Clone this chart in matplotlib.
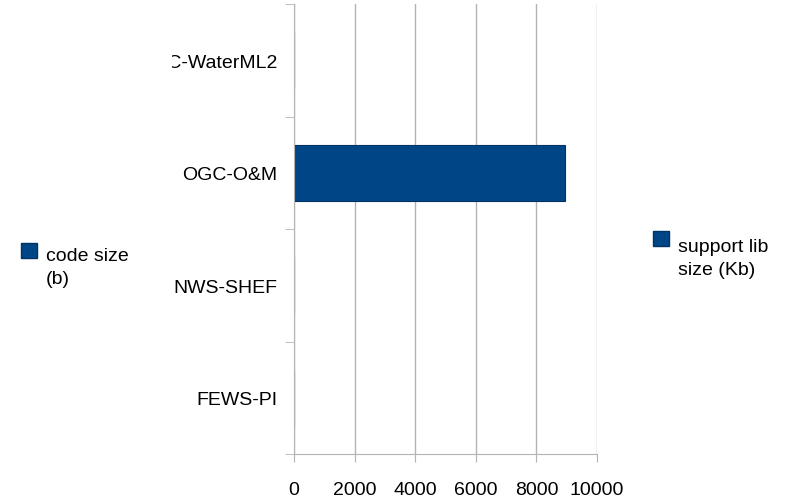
import matplotlib
matplotlib.use("Agg")
import matplotlib.pyplot as plt
from matplotlib.patches import Patch
from matplotlib.transforms import Bbox, TransformedBbox

# chart data
categories = ["FEWS-PI", "NWS-SHEF", "OGC-O&M", "OGC-WaterML2"]
code_size = [0, 0, 8950, 0]
support_lib_size = [0, 0, 0, 0]
x_ticks = [0, 2000, 4000, 6000, 8000, 10000]

bar_color = "#004586"
edge_color = "#003366"
grid_color = "#b3b3b3"

plt.rcParams["font.family"] = ["Liberation Sans", "DejaVu Sans"]
plt.rcParams["font.size"] = 14

fig = plt.figure(figsize=(7.9, 5.02), dpi=100)
ax = fig.add_axes([294 / 790, 1 - 455 / 502, 303 / 790, 450 / 502])

pos = list(range(len(categories)))
ax.barh(pos, code_size, height=0.5, color=bar_color, edgecolor=edge_color, linewidth=0.8)
ax.barh(pos, support_lib_size, height=0.5, color=bar_color)

ax.set_xlim(0, 10000)
ax.set_ylim(-0.5, len(categories) - 0.5)
ax.set_xticks(x_ticks)
ax.set_yticks(pos, labels=categories)
ax.set_yticks([p - 0.5 for p in pos] + [len(categories) - 0.5], minor=True)

ax.tick_params(axis="y", which="major", length=0, pad=12)
ax.tick_params(axis="y", which="minor", length=6.5, color=grid_color)
ax.tick_params(axis="x", length=5.8, color=grid_color, pad=14)

ax.xaxis.grid(True, color=grid_color, linewidth=1)
ax.set_axisbelow(True)
for side in ["top", "right"]:
    ax.spines[side].set_visible(False)
for side in ["left", "bottom"]:
    ax.spines[side].set_color(grid_color)

# the top label is cut off at the left in the original
clip = TransformedBbox(Bbox([[172 / 790, 0], [1, 1]]), fig.transFigure)
for lbl in ax.get_yticklabels():
    lbl.set_clip_on(True)
    lbl.set_clip_box(clip)


def add_legend(label, x, y, lift):
    leg = fig.legend(handles=[Patch(facecolor=bar_color, edgecolor=edge_color)], labels=[label],
                     loc="center left", bbox_to_anchor=(x / 790, 1 - y / 502), frameon=False,
                     handlelength=0.82, handleheight=0.82, handletextpad=0.46,
                     borderpad=0, borderaxespad=0)
    for t in leg.get_texts():
        t.set_linespacing(1.45)
    # square sits next to the first line, not the middle
    h = leg.legend_handles[0]
    h.set_y(h.get_y() + lift)
    return leg


add_legend("code size\n(b)", 21, 268, 12)
add_legend("support lib\nsize (Kb)", 653, 259, 14)

fig.savefig("out.png", dpi=100)
